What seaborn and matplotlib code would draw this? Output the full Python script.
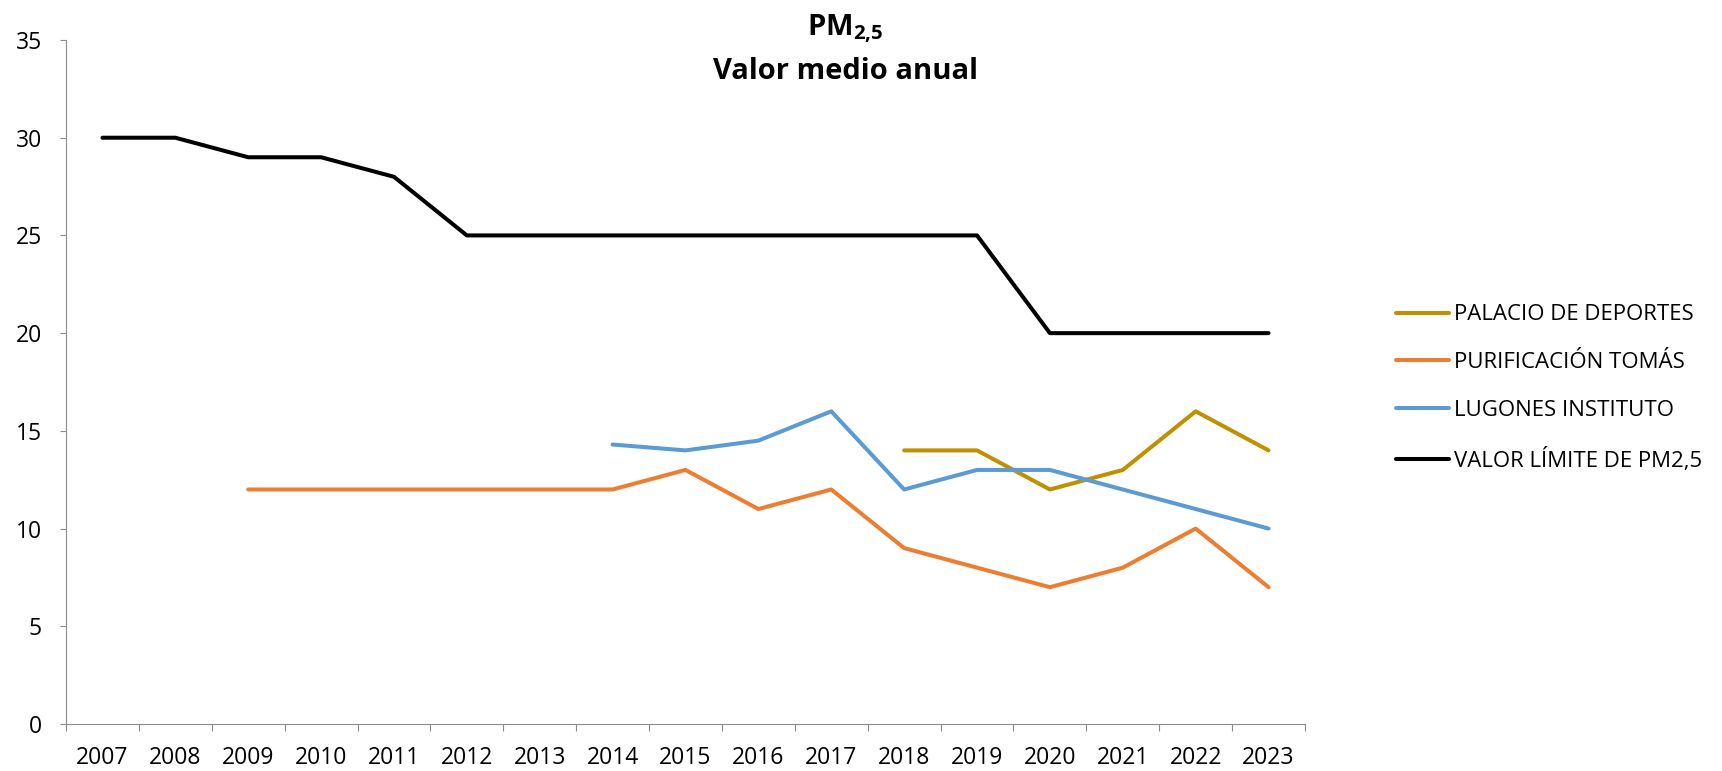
import numpy as np
import pandas as pd
import seaborn as sns
import matplotlib
matplotlib.use("Agg")
import matplotlib.pyplot as plt
from matplotlib.ticker import MultipleLocator

years = list(range(2007, 2024))
palacio = [np.nan] * 11 + [14, 14, 12, 13, 16, 14]
purificacion = [np.nan] * 2 + [12, 12, 12, 12, 12, 12, 13, 11, 12, 9, 8, 7, 8, 10, 7]
lugones = [np.nan] * 7 + [14.3, 14, 14.5, 16, 12, 13, 13, 12, 11, 10]
limite = [30, 30, 29, 29, 28, 25, 25, 25, 25, 25, 25, 25, 25, 20, 20, 20, 20]

names = ["PALACIO DE DEPORTES", "PURIFICACIÓN TOMÁS", "LUGONES INSTITUTO", "VALOR LÍMITE DE PM2,5"]
colors = ["#BF9000", "#ED7D31", "#5B9BD5", "#000000"]

df = pd.concat([
    pd.DataFrame({"year": years, "value": vals, "serie": name})
    for name, vals in zip(names, [palacio, purificacion, lugones, limite])
]).dropna()

sns.set_style("white")
plt.rcParams["font.family"] = ["Open Sans", "DejaVu Sans"]
plt.rcParams["text.color"] = "black"
plt.rcParams["xtick.labelcolor"] = "black"
plt.rcParams["ytick.labelcolor"] = "black"
plt.rcParams["mathtext.fontset"] = "custom"
plt.rcParams["mathtext.bf"] = "Open Sans:bold"
plt.rcParams["mathtext.rm"] = "Open Sans:bold"

fig = plt.figure(figsize=(17.22, 7.71), dpi=100)
ax = fig.add_axes([66 / 1722, 1 - 724 / 771, (1305 - 66) / 1722, (724 - 40) / 771])

sns.lineplot(data=df, x="year", y="value", hue="serie", hue_order=names,
             palette=colors, linewidth=2.9, ax=ax, legend=True)

axis_grey = "#8C8C8C"
ax.set_xlim(2006.5, 2023.5)
ax.set_ylim(0, 35)
ax.set_xticks(years)
ax.set_xticklabels([str(y) for y in years])
ax.xaxis.set_minor_locator(MultipleLocator(1, offset=0.5))
ax.tick_params(axis="x", which="major", length=0, labelsize=16.5, pad=16)
ax.tick_params(axis="x", which="minor", length=5, width=0.8, color=axis_grey, direction="out", bottom=True)
ax.yaxis.set_major_locator(MultipleLocator(5))
ax.tick_params(axis="y", length=4.5, width=0.8, color=axis_grey, direction="out", labelsize=16.5, pad=13, left=True)
ax.set_xlabel("")
ax.set_ylabel("")
for s in ["top", "right"]:
    ax.spines[s].set_visible(False)
for s in ["left", "bottom"]:
    ax.spines[s].set_color(axis_grey)
    ax.spines[s].set_linewidth(0.8)

leg = ax.legend(loc="center left", bbox_to_anchor=(1385 / 1722, 1 - 388 / 771),
                bbox_transform=fig.transFigure, frameon=False, borderpad=0,
                fontsize=16, handlelength=2.4, labelspacing=1.2, handletextpad=0.2)
for line in leg.get_lines():
    line.set_linewidth(2.9)

fig.text(0.491, 1 - 35 / 771, r"PM$_{2{,}5}$", ha="center", va="baseline", fontsize=21, fontweight="bold")
fig.text(0.491, 1 - 79 / 771, "Valor medio anual", ha="center", va="baseline", fontsize=21, fontweight="bold")

fig.savefig("out.png", dpi=100)
